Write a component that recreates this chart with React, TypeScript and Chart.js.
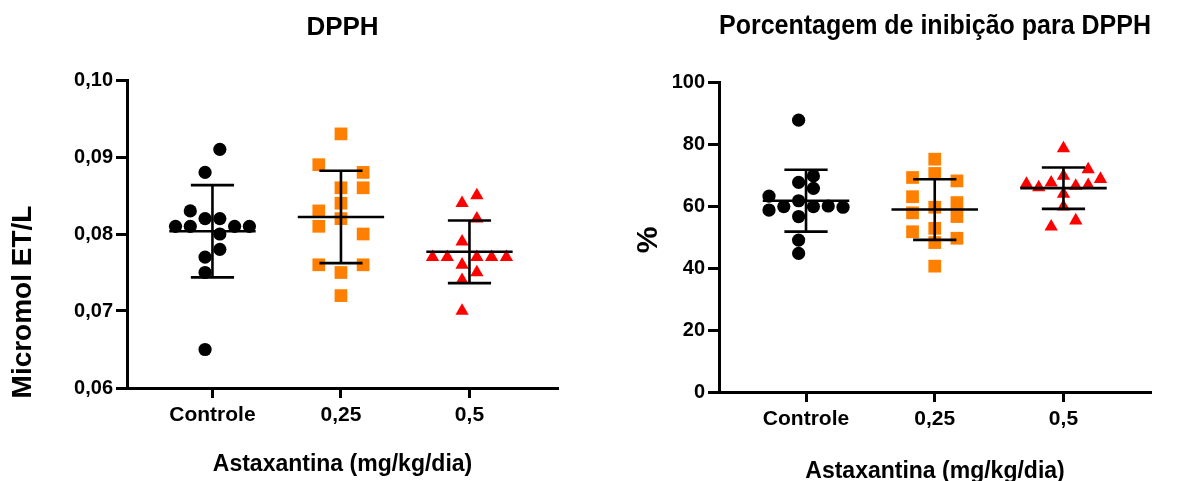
import React, { useEffect, useRef } from "react";
import { Chart, registerables } from "chart.js";

Chart.register(...registerables);

const FONT = '"Liberation Sans", Arial, Helvetica, sans-serif';

// ---------- DATA ----------
const CATEGORIES = ["Controle", "0,25", "0,5"];

// DPPH (Micromol ET/L)
const DPPH_CONTROLE = [0.091, 0.088, 0.083, 0.082, 0.082, 0.081, 0.081, 0.081, 0.081, 0.080, 0.078, 0.077, 0.075, 0.065];
const DPPH_025 = [0.093, 0.089, 0.088, 0.086, 0.086, 0.084, 0.083, 0.082, 0.081, 0.080, 0.076, 0.076, 0.075, 0.072];
const DPPH_05 = [0.085, 0.084, 0.082, 0.079, 0.077, 0.077, 0.077, 0.077, 0.077, 0.076, 0.075, 0.074, 0.070];

// Porcentagem de inibição (%)
const INIB_CONTROLE = [87.7, 69.7, 67.6, 65.7, 63.2, 61.7, 58.7, 59.8, 59.8, 60.0, 59.6, 56.6, 49.0, 44.7];
const INIB_025 = [75.1, 70.5, 69.2, 68.1, 63.0, 61.1, 59.6, 57.8, 56.6, 52.8, 51.7, 49.6, 48.2, 40.6];
const INIB_05 = [78.6, 71.8, 69.7, 68.7, 67.1, 67.5, 66.0, 66.5, 66.7, 63.9, 59.8, 55.3, 53.3];

const DPPH_TICKS = [0.06, 0.07, 0.08, 0.09, 0.1];
const INIB_TICKS = [0, 20, 40, 60, 80, 100];

// ---------- LAYOUT (scatter-dot column slots, not data) ----------
const DPPH_SLOTS = [
  [0.5, -0.5, -1.5, -0.5, 0.5, -2.5, -1.5, 1.5, 2.5, 0.5, 0.5, -0.5, -0.5, -0.5],
  [0, -1.5, 1.5, 0, 1.5, 0, -1.5, 0, -1.5, 1.5, -1.5, 1.5, 0, 0],
  [0.5, -0.5, 0.5, -0.5, -2.5, -1.5, 0.5, 1.5, 2.5, -0.5, 0.5, -0.5, -0.5],
];
const INIB_SLOTS = [
  [-0.5, 0.5, -0.5, 0.5, -2.5, -0.5, -2.5, -1.5, 0.5, 1.5, 2.5, -0.5, -0.5, -0.5],
  [0, 0, -1.5, 1.5, -1.5, 1.5, 0, -1.5, 1.5, 0, -1.5, 1.5, 0, 0],
  [0, 1.67, 0, 2.5, -2.5, -0.83, -1.67, 0.83, 1.67, 0, 0, 0.83, -0.83],
];
const SLOT_W = 0.115;
const MEAN_HALF = 0.336;
const CAP_HALF = 0.168;

const GROUP_STYLES = [
  { color: "#000000", pointStyle: "circle", radius: 6.6 },
  { color: "#FF8000", pointStyle: "rect", radius: 9 },
  { color: "#FF0000", pointStyle: "triangle", radius: 7.7 },
];

const mean = (a: number[]) => a.reduce((s, v) => s + v, 0) / a.length;
const sd = (a: number[]) => {
  const m = mean(a);
  return Math.sqrt(a.reduce((s, v) => s + (v - m) * (v - m), 0) / (a.length - 1));
};

function buildDatasets(groups: number[][], slots: number[][]) {
  const lines: any[] = [];
  const points: any[] = [];
  groups.forEach((vals, i) => {
    const m = mean(vals);
    const s = sd(vals);
    const seg = (x1: number, y1: number, x2: number, y2: number) => ({
      showLine: true,
      data: [
        { x: x1, y: y1 },
        { x: x2, y: y2 },
      ],
      borderColor: "#000",
      borderWidth: 2.6,
      pointRadius: 0,
      pointHoverRadius: 0,
      fill: false,
    });
    lines.push(seg(i - MEAN_HALF, m, i + MEAN_HALF, m));
    lines.push(seg(i - CAP_HALF, m + s, i + CAP_HALF, m + s));
    lines.push(seg(i - CAP_HALF, m - s, i + CAP_HALF, m - s));
    lines.push(seg(i, m - s, i, m + s));
    const st = GROUP_STYLES[i];
    points.push({
      data: vals.map((v, k) => ({ x: i + slots[i][k] * SLOT_W, y: v })),
      pointStyle: st.pointStyle,
      pointRadius: st.radius,
      pointHoverRadius: st.radius,
      backgroundColor: st.color,
      borderColor: st.color,
      borderWidth: 0,
      showLine: false,
    });
  });
  return [...lines, ...points];
}

const yTitlePlugin = {
  id: "yTitle",
  afterDraw(chart: any, _args: any, opts: any) {
    const { ctx } = chart;
    ctx.save();
    ctx.translate(opts.x, opts.y);
    ctx.rotate(-Math.PI / 2);
    ctx.font = `bold ${opts.size}px ${FONT}`;
    ctx.fillStyle = "#000";
    ctx.textAlign = "center";
    ctx.textBaseline = "middle";
    ctx.fillText(opts.text, 0, 0);
    ctx.restore();
  },
};

interface PanelCfg {
  title: string;
  titleSize: number;
  titlePad: { top: number; bottom: number };
  yTitle: string;
  yTitleSize: number;
  yTitlePos: { x: number; y: number };
  groups: number[][];
  slots: number[][];
  yMin: number;
  yMax: number;
  yTicks: number[];
  yFmt: (v: number) => string;
  yWidth: number;
  xHeight: number;
  xMin: number;
  xMax: number;
  xTitlePadBottom: number;
  padRight: number;
}

function makeConfig(c: PanelCfg): any {
  return {
    type: "scatter",
    data: { datasets: buildDatasets(c.groups, c.slots) },
    plugins: [yTitlePlugin],
    options: {
      responsive: false,
      animation: false,
      devicePixelRatio: 1,
      layout: { padding: { top: 0, left: 0, right: c.padRight, bottom: 0 } },
      plugins: {
        legend: { display: false },
        tooltip: { enabled: false },
        title: {
          display: true,
          text: c.title,
          fullSize: false,
          color: "#000",
          font: { family: FONT, size: c.titleSize, weight: "bold", lineHeight: 1.2 },
          padding: c.titlePad,
        },
        yTitle: { text: c.yTitle, size: c.yTitleSize, x: c.yTitlePos.x, y: c.yTitlePos.y },
      },
      scales: {
        x: {
          type: "linear",
          min: c.xMin,
          max: c.xMax,
          afterBuildTicks: (s: any) => {
            s.ticks = CATEGORIES.map((_, i) => ({ value: i }));
          },
          afterFit: (s: any) => {
            s.height = c.xHeight;
          },
          ticks: {
            callback: (_v: any, idx: number) => CATEGORIES[idx],
            color: "#000",
            font: { family: FONT, size: 21, weight: "bold" },
            padding: 5,
            autoSkip: false,
            maxRotation: 0,
          },
          grid: {
            display: true,
            drawOnChartArea: false,
            drawTicks: true,
            tickLength: 10,
            tickWidth: 3,
            tickColor: "#000",
          },
          border: { display: true, color: "#000", width: 3 },
          title: {
            display: true,
            text: "Astaxantina (mg/kg/dia)",
            color: "#000",
            font: { family: FONT, size: 23, weight: "bold", lineHeight: 1.2 },
            padding: { top: 0, bottom: c.xTitlePadBottom },
          },
        },
        y: {
          type: "linear",
          min: c.yMin,
          max: c.yMax,
          afterBuildTicks: (s: any) => {
            s.ticks = c.yTicks.map((v) => ({ value: v }));
          },
          afterFit: (s: any) => {
            s.width = c.yWidth;
          },
          ticks: {
            callback: (v: any) => c.yFmt(Number(v)),
            color: "#000",
            font: { family: FONT, size: 20, weight: "bold" },
            padding: 3,
          },
          grid: {
            display: true,
            drawOnChartArea: false,
            drawTicks: true,
            tickLength: 11,
            tickWidth: 3,
            tickColor: "#000",
          },
          border: { display: true, color: "#000", width: 3 },
        },
      },
    },
  };
}

const LEFT_CFG: PanelCfg = {
  title: "DPPH",
  titleSize: 26,
  titlePad: { top: 12.4, bottom: 36.4 },
  yTitle: "Micromol ET/L",
  yTitleSize: 28,
  yTitlePos: { x: 23, y: 302 },
  groups: [DPPH_CONTROLE, DPPH_025, DPPH_05],
  slots: DPPH_SLOTS,
  yMin: 0.06,
  yMax: 0.1,
  yTicks: DPPH_TICKS,
  yFmt: (v) => v.toFixed(2).replace(".", ","),
  yWidth: 127,
  xHeight: 93,
  xMin: -0.665,
  xMax: 2.689,
  xTitlePadBottom: 2.2,
  padRight: 32,
};

const RIGHT_CFG: PanelCfg = {
  title: "Porcentagem de inibição para DPPH",
  titleSize: 27.5,
  titlePad: { top: 9.5, bottom: 39.5 },
  yTitle: "%",
  yTitleSize: 30,
  yTitlePos: { x: 59, y: 240 },
  groups: [INIB_CONTROLE, INIB_025, INIB_05],
  slots: INIB_SLOTS,
  yMin: 0,
  yMax: 100,
  yTicks: INIB_TICKS,
  yFmt: (v) => String(Math.round(v)),
  yWidth: 129,
  xHeight: 89,
  xMin: -0.676,
  xMax: 2.68,
  xTitlePadBottom: -4.8,
  padRight: 28,
};

function Panel({ cfg, left, width }: { cfg: PanelCfg; left: number; width: number }) {
  const ref = useRef<HTMLCanvasElement | null>(null);
  useEffect(() => {
    if (!ref.current) return;
    const chart = new Chart(ref.current, makeConfig(cfg));
    return () => chart.destroy();
  }, [cfg]);
  return (
    <canvas
      ref={ref}
      width={width}
      height={481}
      style={{ position: "absolute", left, top: 0, width, height: 481 }}
    />
  );
}

export default function App() {
  return (
    <div
      style={{
        position: "absolute",
        left: 0,
        top: 0,
        width: 1179,
        height: 481,
        background: "#fff",
        overflow: "hidden",
      }}
    >
      <Panel cfg={LEFT_CFG} left={0} width={590} />
      <Panel cfg={RIGHT_CFG} left={590} width={589} />
    </div>
  );
}
